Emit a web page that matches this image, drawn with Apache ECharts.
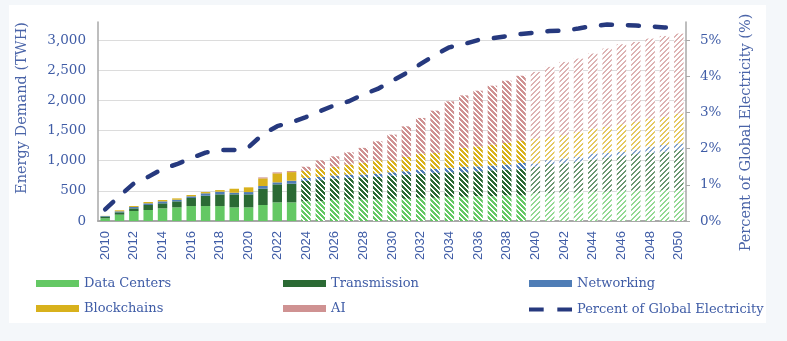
<!DOCTYPE html>
<html><head><meta charset="utf-8">
<script src="https://cdn.jsdelivr.net/npm/echarts@6/dist/echarts.min.js"></script>
<style>
html,body{margin:0;padding:0;background:#f4f7fa;}
#panel{position:absolute;left:9px;top:5px;width:757px;height:318px;background:#ffffff;}
#chart{position:absolute;left:0;top:0;width:787px;height:341px;}
</style></head><body>
<div id="panel"></div><div id="chart"></div>
<script>
const years = ['2010','2011','2012','2013','2014','2015','2016','2017','2018','2019','2020','2021','2022','2023','2024','2025','2026','2027','2028','2029','2030','2031','2032','2033','2034','2035','2036','2037','2038','2039','2040','2041','2042','2043','2044','2045','2046','2047','2048','2049','2050'];
const dataCenters  = [45,105,166,182,210,226,248,248,248,226,226,265,309,309,328,328,350,356,356,356,367,367,384,384,401,401,411,411,422,422,458,458,469,469,485,485,502,502,513,513,513];
const transmission = [30,39,44,83,83,100,133,171,194,216,216,270,299,309,337,350,355,359,370,375,386,403,403,414,407,407,414,430,431,442,442,486,488,513,536,570,574,608,618,635,663];
const networking   = [8,16,22,28,33,27,28,40,44,27,38,45,33,50,50,55,50,55,45,56,55,55,66,66,73,90,82,78,83,100,56,66,81,83,100,76,72,77,100,111,111];
const blockchains  = [2,17,16,22,22,22,22,21,27,66,78,127,149,143,115,130,145,166,194,220,199,238,265,265,291,314,332,348,359,369,413,387,386,414,414,431,458,457,469,468,496];
const ai           = [0,0,0,0,0,0,0,0,0,0,0,16,16,17,70,142,173,203,248,315,425,507,591,701,812,871,922,977,1032,1076,1104,1159,1214,1215,1242,1298,1325,1325,1325,1342,1325];
const pctGlobal    = [0.32,0.69,1.04,1.22,1.44,1.57,1.74,1.89,1.96,1.96,2.04,2.40,2.62,2.73,2.87,3.04,3.20,3.31,3.50,3.65,3.87,4.09,4.34,4.59,4.80,4.89,5.00,5.05,5.11,5.17,5.21,5.25,5.26,5.32,5.39,5.43,5.42,5.40,5.38,5.35,5.34];
const forecastStart = 2024, lateStart = 2040;

const COLORS = {dc:'#64c864', tr:'#2b6a34', nw:'#4f7db6', bc:'#d8b11c', ai:'#cf9292', line:'#26397e'};
const TEXT = '#3f5ca6';

function hexToRgb(h){h=h.replace('#','');return [parseInt(h.substr(0,2),16),parseInt(h.substr(2,2),16),parseInt(h.substr(4,2),16)];}
function hatch(color, dir, alpha, s, w){
  const c=document.createElement('canvas'); c.width=s; c.height=s;
  const ctx=c.getContext('2d');
  const img=ctx.createImageData(s,s); const rgb=hexToRgb(color);
  for(let y=0;y<s;y++)for(let x=0;x<s;x++){
    const k = dir>0 ? (x+y)%s : (((x-y)%s)+s)%s;
    const i=(y*s+x)*4;
    if(k<w){
      img.data[i]=Math.round(rgb[0]*alpha+255*(1-alpha));
      img.data[i+1]=Math.round(rgb[1]*alpha+255*(1-alpha));
      img.data[i+2]=Math.round(rgb[2]*alpha+255*(1-alpha));
    } else {img.data[i]=255;img.data[i+1]=255;img.data[i+2]=255;}
    img.data[i+3]=255;
  }
  ctx.putImageData(img,0,0);
  return {image:c, repeat:'repeat'};
}
function items(vals, color){
  const mid = hatch(color,-1,1,5,3), late = hatch(color,1,0.7,5,2);
  return vals.map((v,i)=>{
    const y = +years[i];
    if(y<forecastStart) return v;
    return {value:v, itemStyle:{color: y<lateStart ? mid : late}};
  });
}
function barSeries(name, vals, color){
  return {name, type:'bar', stack:'total', barWidth:'66%', yAxisIndex:0,
    itemStyle:{color}, data:items(vals,color), emphasis:{disabled:true}};
}

const chart = echarts.init(document.getElementById('chart'), null, {renderer:'canvas'});
const serif = 'DejaVu Serif';
const legendText = {fontFamily:serif, fontSize:13, color:TEXT};
const legendBase = {orient:'vertical', top:277, itemWidth:43, itemHeight:7, itemGap:12, padding:0, textStyle:legendText, selectedMode:false};
chart.setOption({
  animation:false,
  backgroundColor:'transparent',
  grid:{left:98, right:101, top:22, bottom:120},
  legend:[
    Object.assign({left:36, data:[{name:'Data Centers',icon:'rect'},{name:'Blockchains',icon:'rect'}]}, legendBase),
    Object.assign({left:283, data:[{name:'Transmission',icon:'rect'},{name:'AI',icon:'rect'}]}, legendBase),
    Object.assign({left:529, data:[{name:'Networking',icon:'rect'}]}, legendBase),
    Object.assign({}, legendBase, {left:529, top:303, itemHeight:4.5,
      data:[{name:'Percent of Global Electricity', icon:'path://M0,0h14v4h-14z M27,0h14v4h-14z'}]})
  ],
  xAxis:{type:'category', data:years,
    axisLine:{lineStyle:{color:'#a8a8a8', width:2}},
    axisTick:{show:false},
    axisLabel:{interval:1, rotate:90, margin:10, color:TEXT, fontFamily:'Liberation Sans', fontSize:13}},
  yAxis:[
    {type:'value', min:0, max:3300, interval:500,
     name:'Energy Demand (TWH)', nameLocation:'middle', nameRotate:90, nameGap:68,
     nameTextStyle:{fontFamily:serif, fontSize:14.5, color:'#4a64a8', padding:[0,0,0,27]},
     axisLine:{show:true, lineStyle:{color:'#a8a8a8', width:1.5}},
     axisTick:{show:false},
     axisLabel:{showMaxLabel:false, margin:12, color:TEXT, fontFamily:serif, fontSize:13.5,
       formatter:v=>v.toLocaleString('en-US')},
     splitLine:{show:true, lineStyle:{color:['#dcdcdc','#dcdcdc','#dcdcdc','#dcdcdc','#dcdcdc','#dcdcdc','#dcdcdc','rgba(0,0,0,0)'], width:1}}},
    {type:'value', min:0, max:5.5, interval:1, position:'right',
     name:'Percent of Global Electricity (%)', nameLocation:'middle', nameRotate:90, nameGap:53,
     nameTextStyle:{fontFamily:serif, fontSize:14.5, color:'#4a64a8', padding:[0,22,0,0]},
     axisLine:{show:true, lineStyle:{color:'#a8a8a8', width:1.5}},
     axisTick:{show:true, length:4, lineStyle:{color:'#a8a8a8'}},
     axisLabel:{showMaxLabel:false, margin:14, color:TEXT, fontFamily:serif, fontSize:13.5, formatter:v=>v+'%'},
     splitLine:{show:false}}
  ],
  series:[
    barSeries('Data Centers', dataCenters, COLORS.dc),
    barSeries('Transmission', transmission, COLORS.tr),
    barSeries('Networking', networking, COLORS.nw),
    barSeries('Blockchains', blockchains, COLORS.bc),
    barSeries('AI', ai, COLORS.ai),
    {name:'Percent of Global Electricity', type:'line', yAxisIndex:1, data:pctGlobal,
     symbol:'none', smooth:false, z:5, itemStyle:{color:COLORS.line},
     lineStyle:{color:COLORS.line, width:4.5, type:[11,16], cap:'round'}}
  ]
});
</script>
</body></html>
